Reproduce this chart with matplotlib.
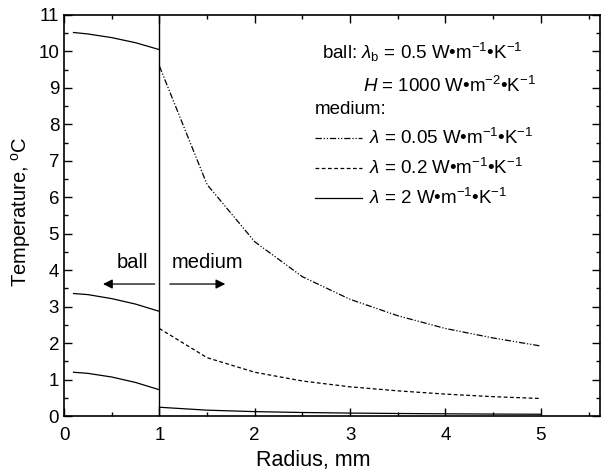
import matplotlib
matplotlib.use("Agg")
import matplotlib.pyplot as plt
from matplotlib.lines import Line2D
from matplotlib.ticker import MultipleLocator

plt.rcParams['font.family'] = ['Liberation Sans', 'DejaVu Sans']
plt.rcParams['mathtext.fontset'] = 'custom'
plt.rcParams['mathtext.rm'] = 'Liberation Sans'
plt.rcParams['mathtext.it'] = 'Liberation Sans:italic'
plt.rcParams['mathtext.bf'] = 'Liberation Sans:bold'

# ---- data ----
r_ball = [0.1, 0.25, 0.5, 0.75, 1.0]
T_ball_005 = [10.52, 10.48, 10.38, 10.24, 10.05]
T_ball_02 = [3.36, 3.33, 3.22, 3.07, 2.87]
T_ball_2 = [1.20, 1.17, 1.07, 0.92, 0.72]

r_med = [1.0, 1.5, 2.0, 2.5, 3.0, 3.5, 4.0, 4.5, 5.0]
T_med_005 = [9.6, 6.35, 4.78, 3.82, 3.2, 2.75, 2.4, 2.14, 1.92]
T_med_02 = [2.4, 1.6, 1.2, 0.96, 0.8, 0.69, 0.6, 0.53, 0.48]
T_med_2 = [0.24, 0.16, 0.12, 0.096, 0.08, 0.069, 0.06, 0.053, 0.048]

x_ticks = [0, 1, 2, 3, 4, 5]
y_ticks = list(range(0, 12))

W, H = 601, 473
fig = plt.figure(figsize=(W / 100, H / 100), dpi=100)
ax = fig.add_axes([64 / W, 1 - 416 / H, (600 - 64) / W, (416 - 15) / H])

lw = 0.9
dd = (5, 1.5, 1, 1.5, 1, 1.5)
ds = (3, 2)
ax.plot(r_ball, T_ball_005, color='black', lw=lw)
ax.plot(r_ball, T_ball_02, color='black', lw=lw)
ax.plot(r_ball, T_ball_2, color='black', lw=lw)
ax.plot(r_med, T_med_005, color='black', lw=lw, dashes=dd)
ax.plot(r_med, T_med_02, color='black', lw=lw, dashes=ds)
ax.plot(r_med, T_med_2, color='black', lw=lw)
ax.axvline(1.0, color='black', lw=1.0)

ax.set_xlim(0, 5.62)
ax.set_ylim(0, 11)
ax.set_xticks(x_ticks)
ax.set_yticks(y_ticks)
ax.xaxis.set_minor_locator(MultipleLocator(0.5))
ax.yaxis.set_minor_locator(MultipleLocator(0.5))
ax.tick_params(which='both', direction='in', top=True, right=True, labelsize=13.5, width=1.0)
ax.tick_params(which='major', length=6)
ax.tick_params(which='minor', length=3)
ax.tick_params(axis='x', pad=8)
for s in ax.spines.values():
    s.set_linewidth(1.2)

ax.set_xlabel('Radius, mm', fontsize=15.5, labelpad=6)
ax.xaxis.set_label_coords(0.465, -0.085)
ax.set_ylabel(r'Temperature, $^\mathrm{o}$C', fontsize=14.5, labelpad=6)
ax.yaxis.set_label_coords(-0.058, 0.51)

# arrows
ax.annotate('', xy=(0.38, 3.62), xytext=(0.98, 3.62),
            arrowprops=dict(arrowstyle='-|>', color='black', lw=0.9, mutation_scale=14))
ax.annotate('', xy=(1.72, 3.62), xytext=(1.08, 3.62),
            arrowprops=dict(arrowstyle='-|>', color='black', lw=0.9, mutation_scale=14))
ax.text(0.72, 4.2, 'ball', fontsize=14.5, ha='center', va='center')
ax.text(1.5, 4.2, 'medium', fontsize=14.5, ha='center', va='center')

def fx(px):
    return px / W

def fy(py):
    return 1 - py / H

fs = 13.5
dot = '\u2022'
fig.text(fx(322), fy(52), r'ball: $\lambda_\mathrm{b}$ = 0.5 W' + dot + r'm$^{\mathrm{-1}}$' + dot + r'K$^{\mathrm{-1}}$',
         fontsize=fs, ha='left', va='center')
fig.text(fx(363), fy(86), r'$H$ = 1000 W' + dot + r'm$^{\mathrm{-2}}$' + dot + r'K$^{\mathrm{-1}}$',
         fontsize=fs, ha='left', va='center')
fig.text(fx(315), fy(109), 'medium:', fontsize=fs, ha='left', va='center')

leg_items = [
    (138, dd, r'$\lambda$ = 0.05 W' + dot + r'm$^{\mathrm{-1}}$' + dot + r'K$^{\mathrm{-1}}$'),
    (168, ds, r'$\lambda$ = 0.2 W' + dot + r'm$^{\mathrm{-1}}$' + dot + r'K$^{\mathrm{-1}}$'),
    (198, None, r'$\lambda$ = 2 W' + dot + r'm$^{\mathrm{-1}}$' + dot + r'K$^{\mathrm{-1}}$'),
]
for py, dsh, label in leg_items:
    ln = Line2D([fx(315), fx(362)], [fy(py), fy(py)], transform=fig.transFigure,
                color='black', lw=lw)
    if dsh is not None:
        ln.set_dashes(dsh)
    fig.add_artist(ln)
    fig.text(fx(369), fy(py), label, fontsize=fs, ha='left', va='center')

fig.savefig('out.png', dpi=100)
